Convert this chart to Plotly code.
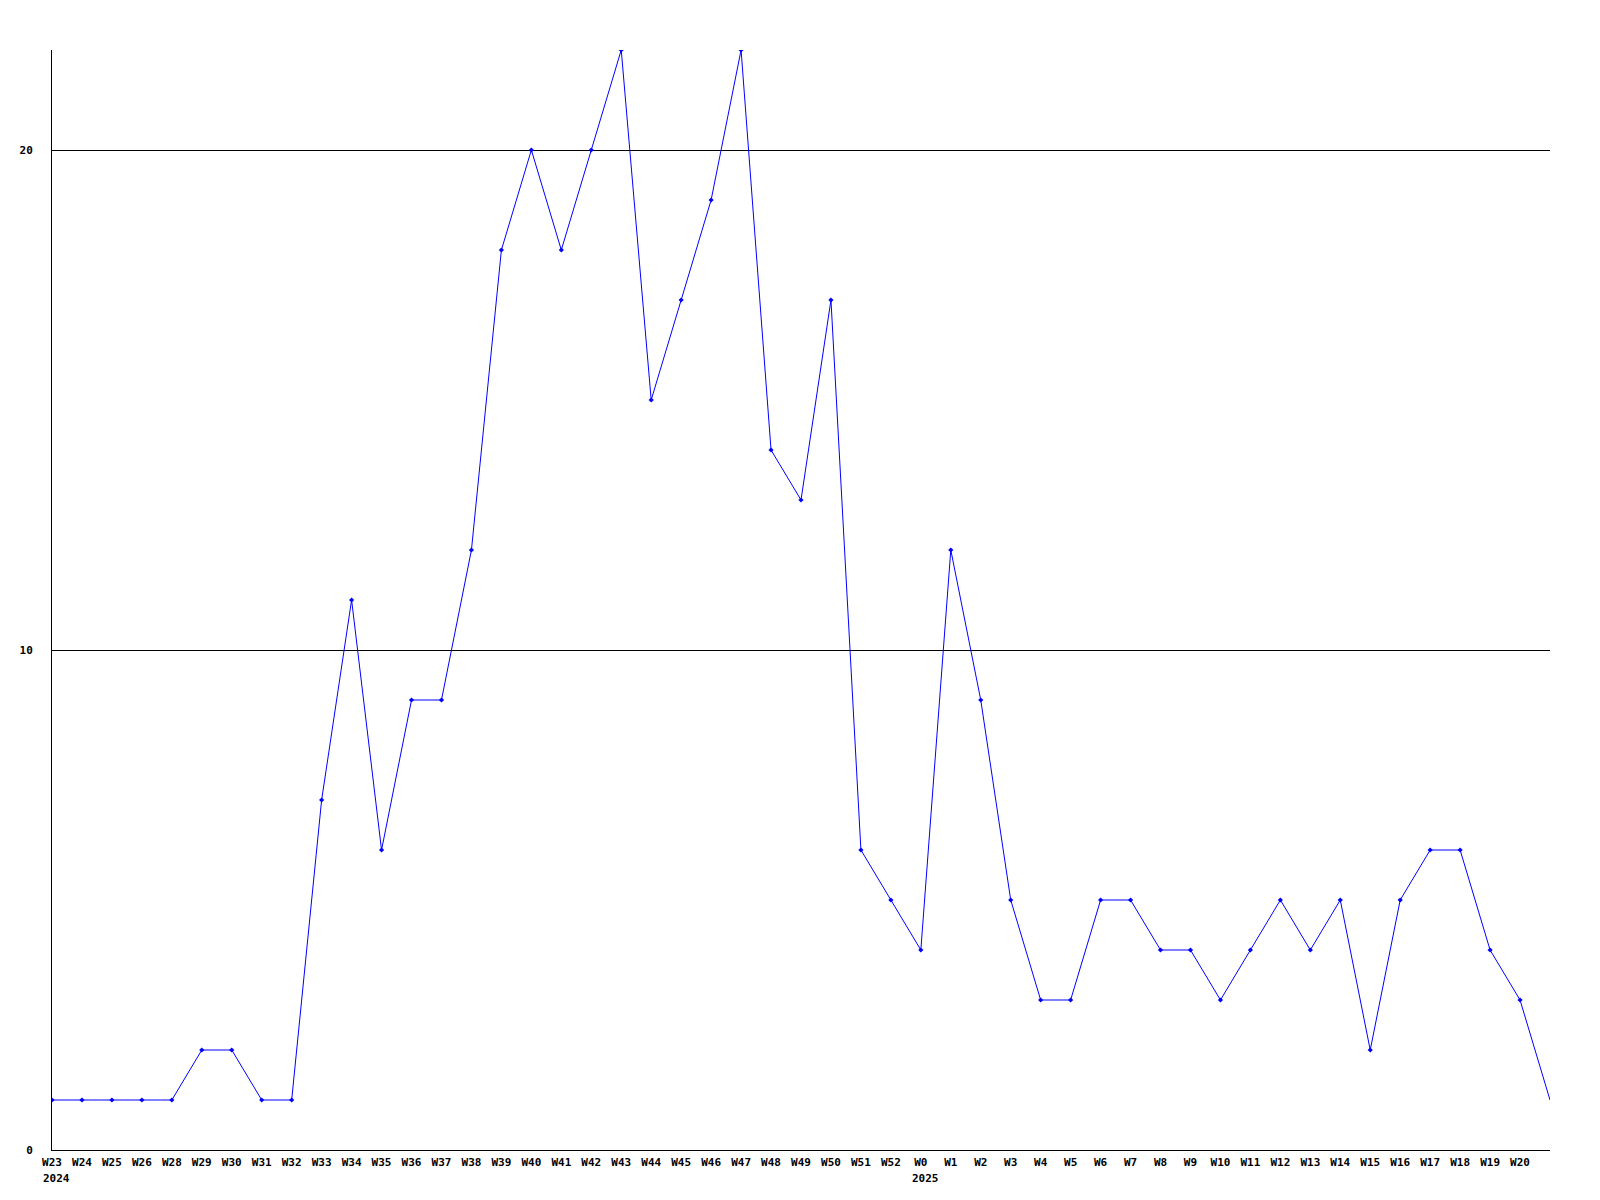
import plotly.graph_objects as go

weeks = ["W23", "W24", "W25", "W26", "W28", "W29", "W30", "W31", "W32", "W33",
         "W34", "W35", "W36", "W37", "W38", "W39", "W40", "W41", "W42", "W43",
         "W44", "W45", "W46", "W47", "W48", "W49", "W50", "W51", "W52", "W0",
         "W1", "W2", "W3", "W4", "W5", "W6", "W7", "W8", "W9", "W10",
         "W11", "W12", "W13", "W14", "W15", "W16", "W17", "W18", "W19", "W20", ""]
values = [1, 1, 1, 1, 1, 2, 2, 1, 1, 7,
          11, 6, 9, 9, 12, 18, 20, 18, 20, 22,
          15, 17, 19, 22, 14, 13, 17, 6, 5, 4,
          12, 9, 5, 3, 3, 5, 5, 4, 4, 3,
          4, 5, 4, 5, 2, 5, 6, 6, 4, 3, 1]
years = {"W23": "2024", "W0": "2025"}
y_ticks = [0, 10, 20]

idx = list(range(len(weeks)))
font_family = "DejaVu Sans Mono"

fig = go.Figure()
fig.add_trace(go.Scatter(
    x=idx, y=values, mode="lines",
    line=dict(color="#0000ff", width=1),
    hoverinfo="skip",
))
fig.add_trace(go.Scatter(
    x=idx[:-1], y=values[:-1], mode="markers",
    marker=dict(symbol="diamond", size=4, color="#0000ff"),
    hoverinfo="skip",
))

annotations = []
for w, yr in years.items():
    i = weeks.index(w)
    annotations.append(dict(
        x=i, y=0, xref="x", yref="paper", text="<b>%s</b>" % yr,
        showarrow=False, xanchor="left", yanchor="top", xshift=-11, yshift=-20,
        font=dict(family=font_family, size=11, color="black"),
    ))

fig.update_layout(
    width=1600, height=1200,
    paper_bgcolor="white", plot_bgcolor="white",
    margin=dict(l=42, r=58, t=42, b=58),
    showlegend=False,
    font=dict(family=font_family, size=11, color="black"),
    annotations=annotations,
    xaxis=dict(
        range=[0, len(weeks) - 1],
        tickmode="array", tickvals=idx[:-1],
        ticktext=["<b>%s</b>" % w for w in weeks[:-1]],
        tickangle=0,
        showgrid=False, zeroline=False,
        showline=True, linecolor="black", linewidth=1,
        ticks="", ticklabelstandoff=2,
        tickfont=dict(family=font_family, size=11, color="black"),
    ),
    yaxis=dict(
        range=[0, 22],
        tickmode="array", tickvals=y_ticks,
        ticktext=["<b>%d</b>" % v for v in y_ticks],
        showgrid=True, gridcolor="black", gridwidth=1,
        zeroline=False,
        showline=True, linecolor="black", linewidth=1,
        ticks="", ticklabelstandoff=16,
        tickfont=dict(family=font_family, size=11, color="black"),
    ),
)

fig.write_html("out.html")
